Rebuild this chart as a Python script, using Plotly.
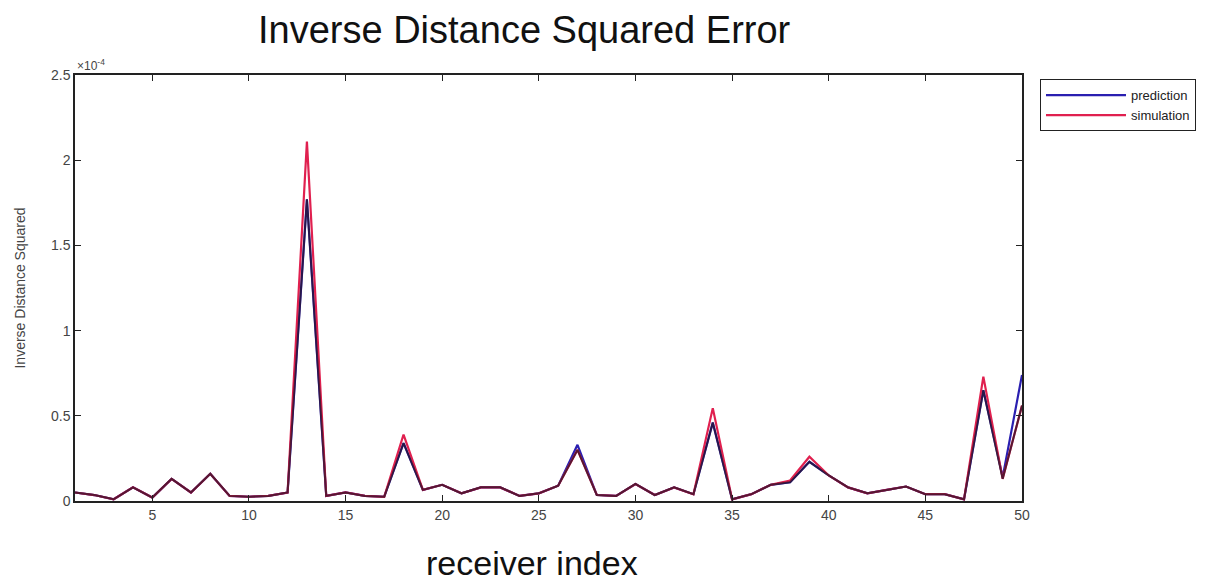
import plotly.graph_objects as go

# Receiver indices and inverse distance squared values (in units of 1e-4)
receiver_index = list(range(1, 51))

prediction = [0.05, 0.035, 0.01, 0.08, 0.02, 0.13, 0.05, 0.16, 0.03, 0.025,
              0.03, 0.05, 1.77, 0.03, 0.05, 0.03, 0.025, 0.34, 0.065, 0.095,
              0.045, 0.08, 0.08, 0.03, 0.045, 0.09, 0.33, 0.035, 0.03, 0.10,
              0.035, 0.08, 0.04, 0.46, 0.01, 0.04, 0.095, 0.11, 0.23, 0.15,
              0.08, 0.045, 0.065, 0.085, 0.04, 0.04, 0.01, 0.65, 0.14, 0.74]

simulation = [0.05, 0.035, 0.01, 0.08, 0.02, 0.13, 0.05, 0.16, 0.03, 0.025,
              0.03, 0.05, 2.11, 0.03, 0.05, 0.03, 0.025, 0.39, 0.065, 0.095,
              0.045, 0.08, 0.08, 0.03, 0.045, 0.09, 0.30, 0.035, 0.03, 0.10,
              0.035, 0.08, 0.04, 0.545, 0.01, 0.04, 0.095, 0.12, 0.26, 0.15,
              0.08, 0.045, 0.065, 0.085, 0.04, 0.04, 0.01, 0.73, 0.13, 0.56]

x_ticks = [5, 10, 15, 20, 25, 30, 35, 40, 45, 50]
y_ticks = [0, 0.5, 1, 1.5, 2, 2.5]
y_tick_text = ["0", "0.5", "1", "1.5", "2", "2.5"]

font_family = "Liberation Sans, Arial, sans-serif"

fig = go.Figure()
fig.add_trace(go.Scatter(x=receiver_index, y=prediction, mode="lines",
                         name="prediction", line=dict(color="#2a1fb0", width=2.2)))
fig.add_trace(go.Scatter(x=receiver_index, y=simulation, mode="lines",
                         name="simulation", line=dict(color="#e0204f", width=2.2)))
# Overlap trace to darken coincident segments
fig.add_trace(go.Scatter(x=receiver_index,
                         y=[min(p, s) for p, s in zip(prediction, simulation)],
                         mode="lines", showlegend=False, hoverinfo="skip",
                         line=dict(color="rgba(40,20,40,0.75)", width=2)))

fig.update_layout(
    width=1212, height=585,
    margin=dict(l=75, r=190, t=75, b=84),
    paper_bgcolor="white", plot_bgcolor="white",
    font=dict(family=font_family, color="#333"),
    showlegend=True,
    legend=dict(x=1.019, y=0.99, xanchor="left", yanchor="top",
                bordercolor="#222", borderwidth=1, bgcolor="white",
                font=dict(size=13, color="#222"), tracegroupgap=0,
                itemwidth=80),
    xaxis=dict(range=[1, 50], tickvals=x_ticks, ticks="inside", ticklen=6,
               tickcolor="#222", showline=True, linecolor="#222", linewidth=1.5,
               mirror="ticks", showgrid=False, zeroline=False,
               tickfont=dict(size=14, color="#444")),
    yaxis=dict(range=[0, 2.5], tickvals=y_ticks, ticktext=y_tick_text,
               ticks="inside", ticklen=6, tickcolor="#222", showline=True,
               linecolor="#222", linewidth=1.5, mirror="ticks", showgrid=False,
               zeroline=False, tickfont=dict(size=14, color="#444"),
               title=dict(text="Inverse Distance Squared", standoff=22,
                          font=dict(size=14, color="#444"))),
)

# Chart title and x-axis label
fig.add_annotation(text="Inverse Distance Squared Error", xref="paper", yref="paper",
                   x=0.475, y=1.105, xanchor="center", yanchor="middle",
                   showarrow=False, font=dict(size=38, color="#111"))
fig.add_annotation(text="receiver index", xref="paper", yref="paper",
                   x=0.483, y=-0.145, xanchor="center", yanchor="middle",
                   showarrow=False, font=dict(size=34, color="#111"))

fig.add_annotation(text="×10<sup>-4</sup>", xref="paper", yref="paper",
                   x=0.0, y=1.0, xanchor="left", yanchor="bottom",
                   showarrow=False, font=dict(size=12, color="#444"))

fig.write_html("out.html")
